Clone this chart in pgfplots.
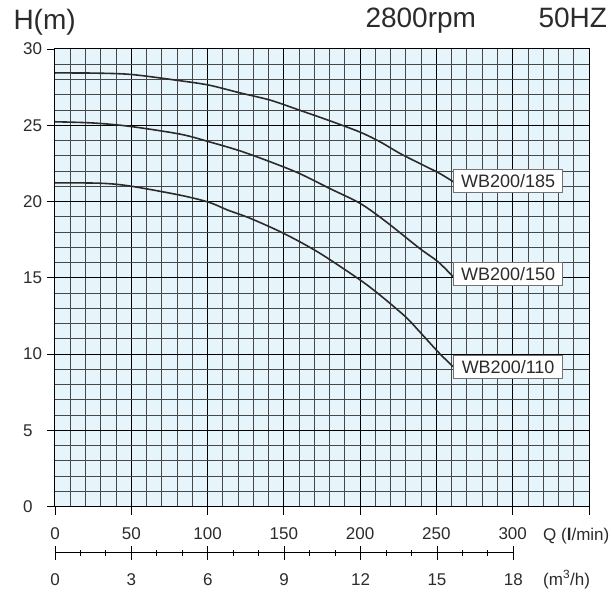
\documentclass[border=0pt]{standalone}
\usepackage{fontspec}
\setmainfont{Liberation Sans}
\usepackage{pgfplots}
\pgfplotsset{compat=1.18}
\definecolor{gridbg}{RGB}{230,245,252}
\definecolor{ink}{RGB}{45,42,43}
\tikzset{lbl/.style={draw=black!55, line width=0.8pt, fill=white, anchor=west,
    minimum width=109pt, minimum height=23pt, inner sep=0pt,
    font=\fontsize{18pt}{20pt}\selectfont, text=ink}}

\begin{document}
\begin{tikzpicture}
\path[use as bounding box] (-55pt,-88.3pt) rectangle (556pt,506.7pt);
\begin{axis}[
  scale only axis, width=534pt, height=457.7pt,
  xmin=0, xmax=350, ymin=0, ymax=30,
  axis background/.style={fill=gridbg},
  xtick={0,50,...,350}, xticklabels={0,50,100,150,200,250,300,{}},
  ytick={0,5,...,30},
  minor x tick num=4, minor y tick num=4,
  grid=both,
  major grid style={black, line width=1pt},
  minor grid style={black!72, line width=0.9pt},
  tick pos=left, tick align=outside,
  major tick length=8pt, minor tick length=0pt,
  tick style={black, line width=0.9pt},
  axis line style={black, line width=1pt},
  every tick label/.append style={inner sep=0pt, text=ink},
  xticklabel style={anchor=base, yshift=-24.3pt, font=\fontsize{17pt}{20pt}\selectfont},
  yticklabel style={anchor=west, xshift=-24pt, font=\fontsize{17pt}{20pt}\selectfont},
  /pgf/number format/assume math mode=true,
  clip=false,
]
% WB200/185
\addplot[ink, line width=1.6pt, smooth, tension=0.5] coordinates {
  (0,28.43) (25,28.42) (50,28.33) (82,27.92) (101,27.63) (121,27.13)
  (141,26.65) (160,26.0) (180,25.3) (200,24.55) (213,23.92) (226,23.16)
  (239,22.5) (252,21.85) (261,21.3)
};
% WB200/150
\addplot[ink, line width=1.6pt, smooth, tension=0.5] coordinates {
  (0,25.23) (25,25.15) (49,24.93) (82,24.42) (101,23.92) (121,23.33)
  (141,22.61) (160,21.85) (180,20.86) (200,19.88) (217,18.68) (239,16.93)
  (251,16.06) (261,15.07)
};
% WB200/110
\addplot[ink, line width=1.6pt, smooth, tension=0.5] coordinates {
  (0,21.23) (30,21.2) (49,21.02) (82,20.42) (101,19.95) (113,19.45)
  (128,18.9) (150,17.91) (173,16.65) (200,14.86) (213,13.87) (226,12.78)
  (232,12.23) (242,11.14) (252,10.05) (261,9.17)
};
\node[lbl] at (axis cs:261,21.36) {WB200/185};
\node[lbl] at (axis cs:261,15.23) {WB200/150};
\node[lbl] at (axis cs:261,9.15) {WB200/110};
\end{axis}

\begin{axis}[
  at={(0pt,-46pt)}, anchor=south west,
  scale only axis, width=458.4pt, height=10pt,
  xmin=0, xmax=18, ymin=0, ymax=1,
  axis x line=bottom, axis y line=none,
  x axis line style={-, black, line width=1pt},
  xtick={0,3,...,18}, minor xtick={0,...,18},
  tick align=center, major tick length=14pt, minor tick length=6pt,
  tick style={black, line width=0.9pt},
  every tick label/.append style={inner sep=0pt, text=ink},
  xticklabel style={anchor=base, yshift=-25.3pt, font=\fontsize{17pt}{20pt}\selectfont},
  /pgf/number format/assume math mode=true,
]
\end{axis}

\node[anchor=base west, text=ink, font=\fontsize{28pt}{30pt}\selectfont] at (-45pt,477.4pt) {H(m)};
\node[anchor=base west, text=ink, font=\fontsize{28pt}{30pt}\selectfont] at (307pt,479.4pt) {2800rpm};
\node[anchor=base west, text=ink, font=\fontsize{28pt}{30pt}\selectfont] at (480pt,479.4pt) {50HZ};
\node[anchor=base west, text=ink, inner sep=0pt, font=\fontsize{17pt}{20pt}\selectfont] at (488pt,-33.3pt) {Q (\textbf{l}/min)};
\node[anchor=base west, text=ink, inner sep=0pt, font=\fontsize{17pt}{20pt}\selectfont] at (488pt,-78.3pt) {(m\textsuperscript{3}/h)};
\end{tikzpicture}
\end{document}
